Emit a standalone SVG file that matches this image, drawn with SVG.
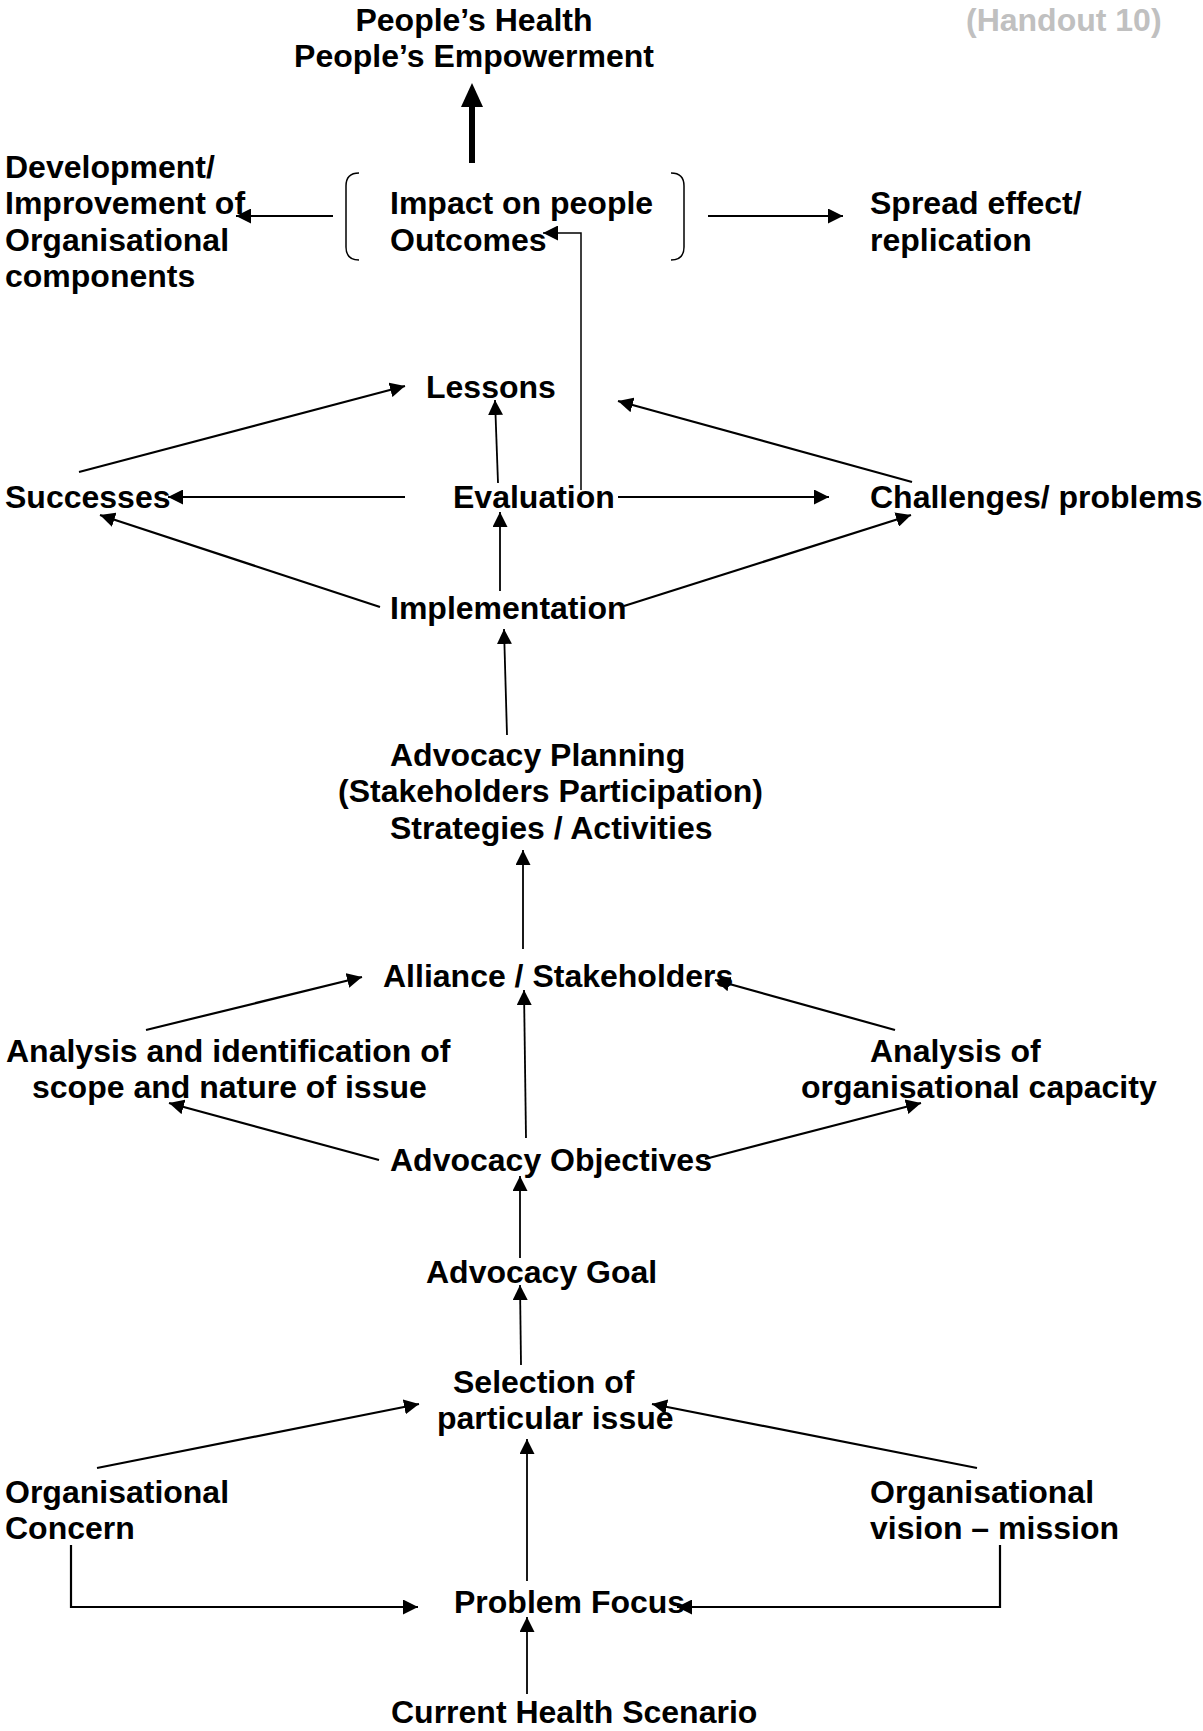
<svg xmlns="http://www.w3.org/2000/svg" width="1203" height="1731" viewBox="0 0 1203 1731">
<style>
text{font-family:"Liberation Sans",Arial,sans-serif;font-weight:bold;font-size:32px;fill:#000}
.handout{fill:#c0c0c0}
.c{fill:none;stroke:#000;stroke-width:2.2}
.v{fill:none;stroke:#000;stroke-width:1.8}
.br{fill:none;stroke:#000;stroke-width:1.5}
</style>
<defs>
<marker id="ah" markerUnits="userSpaceOnUse" markerWidth="16" markerHeight="15" refX="15" refY="7.5" orient="auto">
<path d="M0,0 L15,7.5 L0,15 z" fill="#000"/>
</marker>
</defs>
<rect width="1203" height="1731" fill="#fff"/>

<g id="connectors">
<line x1="472" y1="163" x2="472" y2="104" stroke="#000" stroke-width="6"/>
<polygon points="461,107 483,107 472,83" fill="#000"/>
<line class="c" x1="333" y1="216" x2="236" y2="216" marker-end="url(#ah)"/>
<line class="c" x1="708" y1="216" x2="843" y2="216" marker-end="url(#ah)"/>
<polyline class="br" points="581,490 581,233 543,233" marker-end="url(#ah)"/>
<line class="c" x1="79" y1="472" x2="405" y2="386" marker-end="url(#ah)"/>
<line class="v" x1="498" y1="483" x2="495" y2="400" marker-end="url(#ah)"/>
<line class="c" x1="912" y1="482" x2="618" y2="401" marker-end="url(#ah)"/>
<line class="c" x1="405" y1="497" x2="168" y2="497" marker-end="url(#ah)"/>
<line class="c" x1="618" y1="497" x2="829" y2="497" marker-end="url(#ah)"/>
<line class="v" x1="500" y1="591" x2="500" y2="512" marker-end="url(#ah)"/>
<line class="c" x1="380" y1="607" x2="100" y2="515" marker-end="url(#ah)"/>
<line class="c" x1="624" y1="606" x2="911" y2="515" marker-end="url(#ah)"/>
<line class="v" x1="507" y1="735" x2="504" y2="629" marker-end="url(#ah)"/>
<line class="v" x1="523" y1="949" x2="523" y2="850" marker-end="url(#ah)"/>
<line class="c" x1="146" y1="1030" x2="362" y2="977" marker-end="url(#ah)"/>
<line class="c" x1="895" y1="1030" x2="715" y2="980" marker-end="url(#ah)"/>
<line class="v" x1="526" y1="1138" x2="524" y2="990" marker-end="url(#ah)"/>
<line class="c" x1="379" y1="1160" x2="169" y2="1103" marker-end="url(#ah)"/>
<line class="c" x1="705" y1="1159" x2="921" y2="1103" marker-end="url(#ah)"/>
<line class="v" x1="520" y1="1258" x2="520" y2="1176" marker-end="url(#ah)"/>
<line class="v" x1="521" y1="1365" x2="520" y2="1285" marker-end="url(#ah)"/>
<line class="c" x1="97" y1="1468" x2="419" y2="1404" marker-end="url(#ah)"/>
<line class="c" x1="977" y1="1468" x2="652" y2="1404" marker-end="url(#ah)"/>
<line class="v" x1="527" y1="1581" x2="527" y2="1439" marker-end="url(#ah)"/>
<polyline class="c" points="71,1545 71,1607 418,1607" marker-end="url(#ah)"/>
<polyline class="c" points="1000,1545 1000,1607 677,1607" marker-end="url(#ah)"/>
<line class="v" x1="527" y1="1694" x2="527" y2="1617" marker-end="url(#ah)"/>
</g>

<g id="handout"><text class="handout" x="966" y="31">(Handout 10)</text></g>
<g id="peoples-health"><text x="474" y="31" text-anchor="middle">People’s Health</text><text x="474" y="67" text-anchor="middle">People’s Empowerment</text></g>
<g id="impact">
<path class="br" d="M359,173 Q346,173 346,186 L346,247 Q346,260 359,260"/>
<path class="br" d="M671,173 Q684,173 684,186 L684,247 Q684,260 671,260"/>
<text x="390" y="214">Impact on people</text><text x="390" y="251">Outcomes</text>
</g>
<g id="development"><text x="5" y="178">Development/</text><text x="5" y="214">Improvement of</text><text x="5" y="251">Organisational</text><text x="5" y="287">components</text></g>
<g id="spread"><text x="870" y="214">Spread effect/</text><text x="870" y="251">replication</text></g>
<g id="lessons"><text x="426" y="398">Lessons</text></g>
<g id="successes"><text x="5" y="508">Successes</text></g>
<g id="evaluation"><text x="453" y="508">Evaluation</text></g>
<g id="challenges"><text x="870" y="508">Challenges/ problems</text></g>
<g id="implementation"><text x="390" y="619">Implementation</text></g>
<g id="planning"><text x="390" y="766">Advocacy Planning</text><text x="338" y="802">(Stakeholders Participation)</text><text x="390" y="839">Strategies / Activities</text></g>
<g id="alliance"><text x="383" y="987">Alliance / Stakeholders</text></g>
<g id="analysis-issue"><text x="6" y="1062">Analysis and identification of</text><text x="32" y="1098">scope and nature of issue</text></g>
<g id="analysis-capacity"><text x="870" y="1062">Analysis of</text><text x="801" y="1098">organisational capacity</text></g>
<g id="objectives"><text x="390" y="1171">Advocacy Objectives</text></g>
<g id="goal"><text x="426" y="1283">Advocacy Goal</text></g>
<g id="selection"><text x="453" y="1393">Selection of</text><text x="437" y="1429">particular issue</text></g>
<g id="org-concern"><text x="5" y="1503">Organisational</text><text x="5" y="1539">Concern</text></g>
<g id="org-vision"><text x="870" y="1503">Organisational</text><text x="870" y="1539">vision – mission</text></g>
<g id="problem-focus"><text x="454" y="1613">Problem Focus</text></g>
<g id="current"><text x="391" y="1723">Current Health Scenario</text></g>
</svg>
